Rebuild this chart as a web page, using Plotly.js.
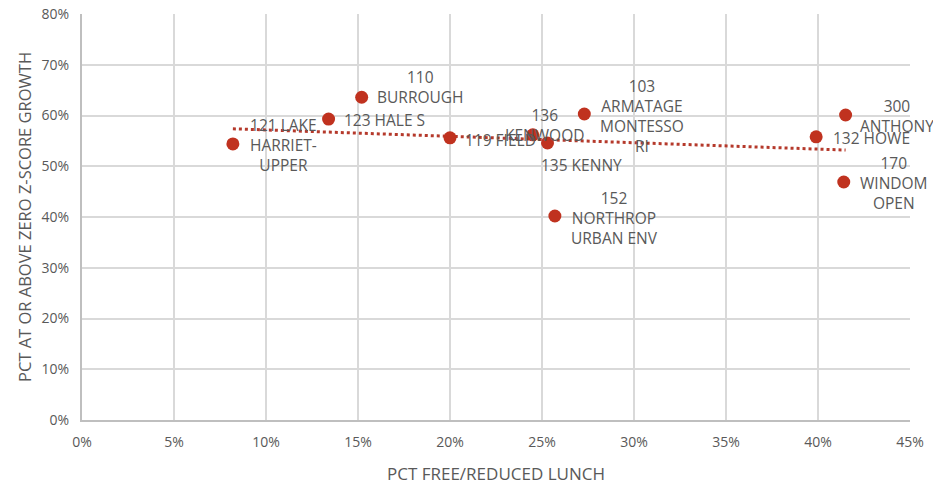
<!DOCTYPE html>
<html>
<head>
<meta charset="utf-8">
<script src="https://cdn.plot.ly/plotly-3.0.1.min.js"></script>
<style>html,body{margin:0;padding:0;background:#fff;}#chart{width:933px;height:485px;}</style>
</head>
<body>
<div id="chart"></div>
<script>
// Data
const schools = ["121 LAKE HARRIET-UPPER","123 HALE S","110 BURROUGH","119 FIELD","136 KENWOOD","135 KENNY","152 NORTHROP URBAN ENV","103 ARMATAGE MONTESSORI","132 HOWE","300 ANTHONY","170 WINDOM OPEN"];
const labelText = ["121 LAKE<br>HARRIET-<br>UPPER","123 HALE S","110<br>BURROUGH","119 FIELD","136<br>KENWOOD","135 KENNY","152<br>NORTHROP<br>URBAN ENV","103<br>ARMATAGE<br>MONTESSO<br>RI","132 HOWE","300<br>ANTHONY","170<br>WINDOM<br>OPEN"];
const pctFreeLunch = [0.082,0.134,0.152,0.200,0.245,0.253,0.257,0.273,0.399,0.415,0.414];
const pctGrowth =    [0.544,0.593,0.636,0.556,0.562,0.546,0.402,0.603,0.558,0.601,0.469];
const xTickVals = [0,0.05,0.10,0.15,0.20,0.25,0.30,0.35,0.40,0.45];
const yTickVals = [0,0.1,0.2,0.3,0.4,0.5,0.6,0.7,0.8];

// Label offsets (pixels) relative to each point
const labelDX = [51,56,59,50,12,34,60,58,55,51,50];
const labelDY = [-1,-1,10,-2,10,-22,-2,-2,-1,-1,-1];

// Linear trendline (least squares)
const n = pctFreeLunch.length;
const mx = pctFreeLunch.reduce((a,b)=>a+b,0)/n;
const my = pctGrowth.reduce((a,b)=>a+b,0)/n;
let sxy=0, sxx=0;
for (let i=0;i<n;i++){ sxy += (pctFreeLunch[i]-mx)*(pctGrowth[i]-my); sxx += (pctFreeLunch[i]-mx)**2; }
const slope = sxy/sxx, icpt = my - slope*mx;
const xmin = Math.min(...pctFreeLunch), xmax = Math.max(...pctFreeLunch);
const trendX = [xmin, xmax];
const trendY = trendX.map(v => icpt + slope*v);

const textColor = "#595959";
const font = "Open Sans, Liberation Sans, sans-serif";

const traces = [
  {x: trendX, y: trendY, mode: "lines", type: "scatter",
   line: {color: "#b5392b", width: 3, dash: "dot"}, hoverinfo: "skip", showlegend: false},
  {x: pctFreeLunch, y: pctGrowth, text: schools, mode: "markers", type: "scatter",
   marker: {color: "#c0321f", size: 13}, showlegend: false}
];

const annotations = pctFreeLunch.map((x,i)=>({
  x: x, y: pctGrowth[i], xref: "x", yref: "y", text: labelText[i], showarrow: false,
  xanchor: "center", yanchor: "middle", align: "center",
  xshift: labelDX[i], yshift: labelDY[i],
  font: {family: font, size: 15.5, color: textColor}
}));

const layout = {
  width: 933, height: 485,
  margin: {l: 82, r: 23, t: 14, b: 65},
  paper_bgcolor: "#fff", plot_bgcolor: "#fff",
  font: {family: font, color: textColor},
  xaxis: {
    range: [0, 0.45], tickvals: xTickVals, tickformat: ".0%",
    showgrid: true, gridcolor: "#d9d9d9", gridwidth: 2,
    showline: true, linecolor: "#bfbfbf", linewidth: 2, zeroline: false,
    ticks: "", ticklabelstandoff: 8,
    tickfont: {family: font, size: 14, color: textColor},
    title: {text: "PCT FREE/REDUCED LUNCH", font: {family: font, size: 17, color: textColor}, standoff: 18}
  },
  yaxis: {
    range: [0, 0.8], tickvals: yTickVals, tickformat: ".0%",
    showgrid: true, gridcolor: "#d9d9d9", gridwidth: 2,
    showline: true, linecolor: "#bfbfbf", linewidth: 2, zeroline: false,
    ticks: "", ticklabelstandoff: 8,
    tickfont: {family: font, size: 14, color: textColor},
    title: {text: "PCT AT OR ABOVE ZERO Z-SCORE GROWTH", font: {family: font, size: 16.5, color: textColor}, standoff: 6}
  },
  annotations: annotations
};

Plotly.newPlot("chart", traces, layout, {displayModeBar: false, staticPlot: true});
</script>
</body>
</html>
